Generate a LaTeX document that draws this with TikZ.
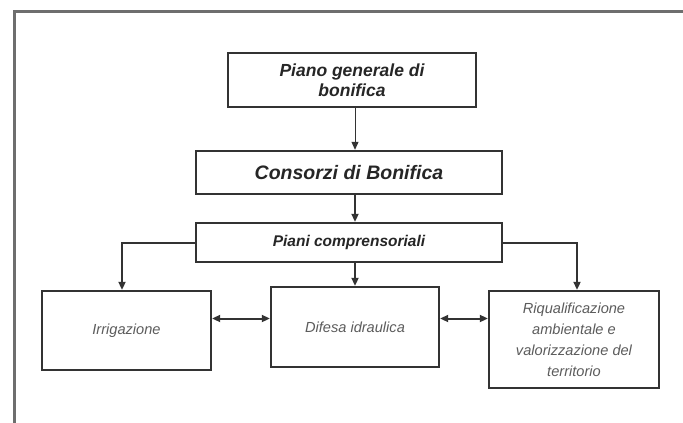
\documentclass[tikz,border=0pt]{standalone}
\usepackage{fontspec}
\setmainfont{Liberation Sans}
\usetikzlibrary{arrows.meta}
\definecolor{framec}{HTML}{6E6E6E}
\definecolor{linec}{HTML}{333333}
\definecolor{toptext}{HTML}{262626}
\definecolor{lowtext}{HTML}{5C5C5C}
\tikzset{
  box/.style={draw=linec, line width=2.4pt, inner sep=0pt, align=center, fill=white},
  topbox/.style={box, text=toptext, font=\bfseries\itshape},
  lowbox/.style={box, text=lowtext, font=\itshape\fontsize{14.6}{21}\selectfont},
  conn/.style={draw=linec, line width=2pt, -{Triangle[length=8pt,width=7pt]}},
  thinconn/.style={draw=linec, line width=1pt, -{Triangle[length=8pt,width=7pt]}},
  dbl/.style={draw=linec, line width=2pt, {Triangle[length=8pt,width=7pt]}-{Triangle[length=8pt,width=7pt]}}
}
\begin{document}
\begin{tikzpicture}[x=1pt,y=-1pt]
\useasboundingbox (0,0) rectangle (683,423);
\draw[framec, line width=3pt] (14,425) -- (14,11) -- (685,11);

\node[topbox, minimum width=248pt, minimum height=54pt, font=\bfseries\itshape\fontsize{17.5}{20}\selectfont] (b1) at (352,80) {Piano generale di\\bonifica};
\node[topbox, minimum width=306pt, minimum height=43pt, font=\bfseries\itshape\fontsize{19.5}{22}\selectfont] (b2) at (349,172.5) {Consorzi di Bonifica};
\node[topbox, minimum width=306pt, minimum height=39pt, font=\bfseries\itshape\fontsize{15.5}{18}\selectfont] (b3) at (349,242.5) {Piani comprensoriali};
\node[lowbox, minimum width=169pt, minimum height=79pt] (b4) at (126.5,330.5) {Irrigazione};
\node[lowbox, minimum width=168pt, minimum height=80pt] (b5) at (355,327) {Difesa idraulica};
\node[lowbox, minimum width=170pt, minimum height=97pt] (b6) at (574,339.5) {Riqualificazione\\ambientale e\\valorizzazione del\\territorio};

\coordinate (ry) at (0,318.5);
\coordinate (cx) at (355,0);

\draw[thinconn] (b1.south -| cx) -- (b2.north -| cx);
\draw[conn] (b2.south -| cx) -- (b3.north -| cx);
\draw[conn] (b3.south -| cx) -- (b5.north -| cx);
\draw[conn] (b3.west) -| ([xshift=-4.5pt]b4.north);
\draw[conn] (b3.east) -| ([xshift=3pt]b6.north);
\draw[dbl] (b4.east |- ry) -- (b5.west |- ry);
\draw[dbl] (b5.east |- ry) -- (b6.west |- ry);
\end{tikzpicture}
\end{document}
